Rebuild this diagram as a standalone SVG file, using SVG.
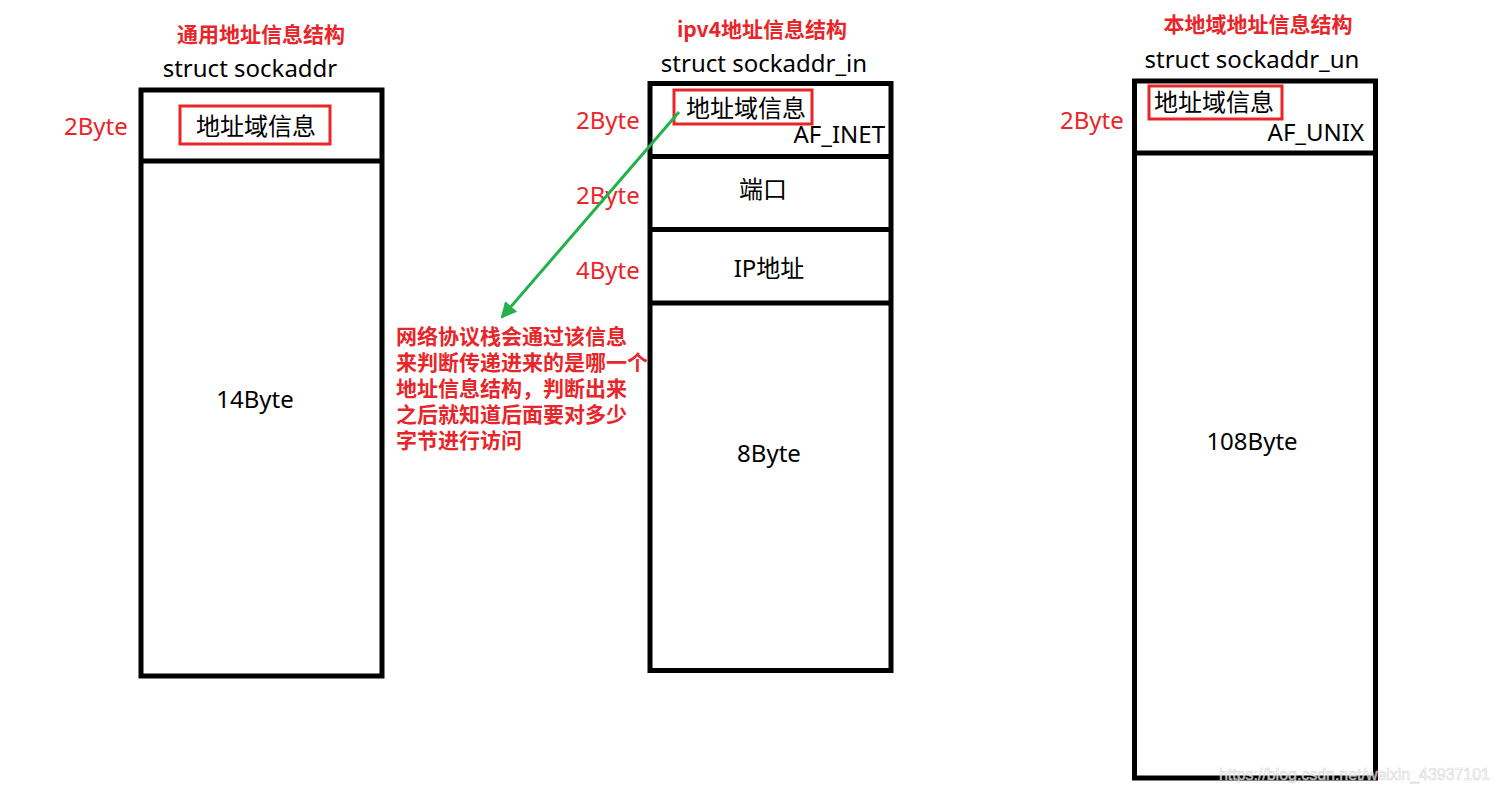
<svg xmlns="http://www.w3.org/2000/svg" width="1498" height="792" viewBox="0 0 1498 792">
<defs>
<style>
.box{fill:none;stroke:#000;stroke-width:5}
.sep{stroke:#000;stroke-width:5}
.hl{fill:none;stroke:#e8262a;stroke-width:3}
.t{font-family:"Noto Sans","Noto Sans CJK SC",sans-serif;font-size:24px;fill:#000}
.r{font-family:"Noto Sans","Noto Sans CJK SC",sans-serif;font-size:24px;fill:#e8262a}
.title{font-family:"Noto Sans CJK SC","Noto Sans",sans-serif;font-size:21px;font-weight:bold;fill:#e8262a}
.note{font-family:"Noto Sans CJK SC",sans-serif;font-size:21px;font-weight:bold;fill:#e8262a}
.m{text-anchor:middle}
.e{text-anchor:end}
</style>
<marker id="ah" viewBox="0 0 16 16" refX="14" refY="8" markerWidth="16" markerHeight="16" markerUnits="userSpaceOnUse" orient="auto">
<path d="M0,0 L16,8 L0,16 Z" fill="#22b14c"/>
</marker>
</defs>
<rect width="1498" height="792" fill="#fff"/>

<g id="sockaddr">
<text class="title m" x="261" y="42">通用地址信息结构</text>
<text class="t m" x="250" y="77">struct sockaddr</text>
<rect class="box" x="141" y="90" width="241" height="586"/>
<line class="sep" x1="141" y1="161" x2="382" y2="161"/>
<rect class="hl" x="180" y="106" width="150" height="38"/>
<text class="t m" x="256" y="135">地址域信息</text>
<text class="r" x="64" y="135">2Byte</text>
<text class="t m" x="255" y="408">14Byte</text>
</g>

<g id="sockaddr_in">
<text class="title m" x="762" y="37">ipv4地址信息结构</text>
<text class="t m" x="764" y="72">struct sockaddr_in</text>
<rect class="box" x="650" y="83.5" width="241" height="587"/>
<line class="sep" x1="650" y1="156.5" x2="891" y2="156.5"/>
<line class="sep" x1="650" y1="229.5" x2="891" y2="229.5"/>
<line class="sep" x1="650" y1="303" x2="891" y2="303"/>
<rect class="hl" x="674" y="90" width="138" height="34"/>
<text class="t m" x="746" y="117">地址域信息</text>
<text class="t e" x="885" y="143">AF_INET</text>
<text class="t m" x="763" y="198">端口</text>
<text class="t m" x="769" y="277">IP地址</text>
<text class="t m" x="769" y="462">8Byte</text>
<text class="r" x="576" y="129">2Byte</text>
<text class="r" x="576" y="204">2Byte</text>
<text class="r" x="576" y="279">4Byte</text>
</g>

<g id="sockaddr_un">
<text class="title m" x="1258" y="32">本地域地址信息结构</text>
<text class="t m" x="1252" y="68">struct sockaddr_un</text>
<rect class="box" x="1134.5" y="81" width="241" height="697"/>
<line class="sep" x1="1134.5" y1="153" x2="1375.5" y2="153"/>
<rect class="hl" x="1149" y="86" width="133" height="33"/>
<text class="t m" x="1214" y="111">地址域信息</text>
<text class="t e" x="1364" y="141">AF_UNIX</text>
<text class="r" x="1060" y="129">2Byte</text>
<text class="t m" x="1252" y="450">108Byte</text>
</g>

<g id="note">
<text class="note" x="396" y="344">网络协议栈会通过该信息</text>
<text class="note" x="396" y="370">来判断传递进来的是哪一个</text>
<text class="note" x="396" y="396">地址信息结构，判断出来</text>
<text class="note" x="396" y="422">之后就知道后面要对多少</text>
<text class="note" x="396" y="448">字节进行访问</text>
</g>

<g id="connectors">
<line x1="679" y1="112" x2="502" y2="317" stroke="#22b14c" stroke-width="3" marker-end="url(#ah)"/>
</g>

<text x="1219" y="780" font-family="Liberation Sans, Arial, sans-serif" font-size="16" fill="#ffffff" stroke="#cfcfcf" stroke-width="0.6" textLength="271" opacity="0.8">https://blog.csdn.net/weixin_43937101</text>
</svg>
